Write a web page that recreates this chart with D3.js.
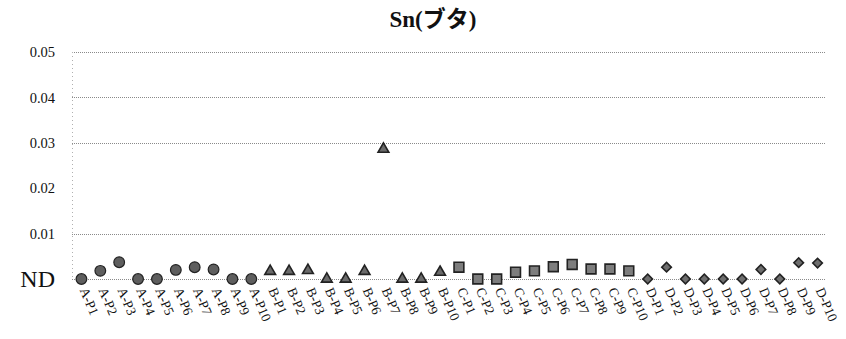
<!DOCTYPE html>
<html>
<head>
<meta charset="utf-8">
<script src="https://cdn.jsdelivr.net/npm/d3@7/dist/d3.min.js"></script>
<style>
  body { margin: 0; background: #fff; }
  svg { display: block; }
  .serif { font-family: "Liberation Serif", "Times New Roman", serif; }
  .cjk { font-family: "Noto Sans CJK JP", sans-serif; }
</style>
</head>
<body>
<svg id="chart" width="846" height="339"></svg>
<script>
// Sample points per group (A: circles, B: triangles, C: squares, D: diamonds)
const groups = ["A", "B", "C", "D"];
const pointsPerGroup = ["P1", "P2", "P3", "P4", "P5", "P6", "P7", "P8", "P9", "P10"];

// Measured Sn values; 0 means not detected (ND)
const valuesA = [0, 0.0018, 0.0037, 0, 0, 0.002, 0.0026, 0.0021, 0, 0];
const valuesB = [0.0017, 0.0017, 0.0019, 0, 0, 0.0017, 0.0286, 0, 0, 0.0015];
const valuesC = [0.0026, 0, 0, 0.0015, 0.0018, 0.0027, 0.0032, 0.0022, 0.0022, 0.0018];
const valuesD = [0, 0.0026, 0, 0, 0, 0, 0.0021, 0, 0.0036, 0.0035];

const yTickValues = [0, 0.01, 0.02, 0.03, 0.04, 0.05];
const yTickLabels = ["ND", "0.01", "0.02", "0.03", "0.04", "0.05"];
const gridValues = [0, 0.01, 0.03, 0.04, 0.05];

const groupValues = [valuesA, valuesB, valuesC, valuesD];
const data = [];
groups.forEach((g, gi) => {
  pointsPerGroup.forEach((p, pi) => {
    data.push({ label: g + "-" + p, group: g, value: groupValues[gi][pi] });
  });
});

const svg = d3.select("#chart");
const plotLeft = 72, plotRight = 827, plotTop = 52, plotBottom = 279;

const x = d3.scaleBand().domain(data.map(d => d.label)).range([plotLeft, plotRight]);
const y = d3.scaleLinear().domain([0, 0.05]).range([plotBottom, plotTop]);

// Title: Latin part in serif, katakana in the CJK face
const title = svg.append("text")
  .attr("x", 433).attr("y", 27)
  .attr("text-anchor", "middle")
  .attr("font-weight", "bold")
  .attr("font-size", 23)
  .attr("fill", "#111");
title.append("tspan").attr("class", "serif").text("Sn(");
title.append("tspan").attr("class", "cjk").text("ブタ");
title.append("tspan").attr("class", "serif").text(")");

// Horizontal dotted gridlines
svg.append("g").selectAll("line").data(gridValues).join("line")
  .attr("x1", plotLeft).attr("x2", 825)
  .attr("y1", d => Math.round(y(d)) + 0.5).attr("y2", d => Math.round(y(d)) + 0.5)
  .attr("stroke", "#8a8a8a")
  .attr("stroke-width", 1)
  .attr("stroke-dasharray", "1,1");

// Vertical dotted axis line
svg.append("line")
  .attr("x1", plotLeft + 0.5).attr("x2", plotLeft + 0.5)
  .attr("y1", plotTop).attr("y2", plotBottom)
  .attr("stroke", "#b0b0b0")
  .attr("stroke-dasharray", "1,3");

// Y axis labels
const yAxis = d3.axisLeft(y)
  .tickValues(yTickValues)
  .tickSize(0)
  .tickPadding(17)
  .tickFormat((d, i) => yTickLabels[i]);
const yg = svg.append("g").attr("transform", `translate(${plotLeft},0)`).call(yAxis);
yg.attr("font-family", null).attr("font-size", null);
yg.select(".domain").remove();
yg.selectAll("text")
  .attr("class", "serif")
  .attr("fill", "#111")
  .style("font-size", d => d === 0 ? "24px" : "14.5px");

// X axis labels, rotated
const xAxis = d3.axisBottom(x).tickSize(0).tickPadding(0);
const xg = svg.append("g").attr("transform", `translate(0,${plotBottom})`).call(xAxis);
xg.attr("font-family", null).attr("font-size", null);
xg.select(".domain").remove();
xg.selectAll("text")
  .attr("class", "serif")
  .style("font-size", "13.5px")
  .attr("fill", "#111")
  .attr("text-anchor", "start")
  .attr("dy", null)
  .attr("y", 0)
  .attr("transform", "translate(-2,11) rotate(67)");

// Markers
const symbolFor = {
  A: d3.symbol().type(d3.symbolCircle).size(90),
  B: d3.symbol().type(d3.symbolTriangle).size(50),
  C: d3.symbol().type(d3.symbolSquare).size(96),
  D: d3.symbol().type(d3.symbolSquare).size(46)
};
const fillFor = { A: "#5e5e5e", B: "#6a6a6a", C: "#7d7d7d", D: "#6e6e6e" };

svg.append("g").selectAll("path").data(data).join("path")
  .attr("d", d => symbolFor[d.group]())
  .attr("transform", d => {
    const cx = x(d.label) + x.bandwidth() / 2;
    const cy = y(d.value);
    return `translate(${cx},${cy})` + (d.group === "D" ? " rotate(45)" : "");
  })
  .attr("fill", d => fillFor[d.group])
  .attr("stroke", "#222")
  .attr("stroke-width", d => d.group === "A" ? 1.2 : 1.6);
</script>
</body>
</html>
